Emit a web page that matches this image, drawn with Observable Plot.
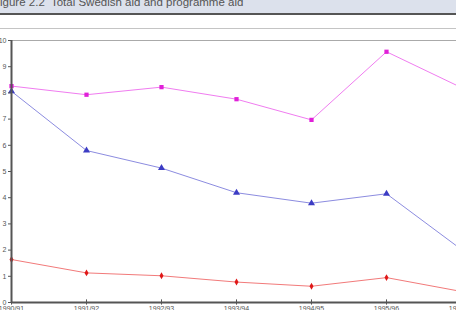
<!DOCTYPE html>
<html>
<head>
<meta charset="utf-8">
<script src="https://cdn.jsdelivr.net/npm/d3@7"></script>
<script src="https://cdn.jsdelivr.net/npm/@observablehq/plot@0.6"></script>
<style>
  html, body { margin: 0; padding: 0; background: #fff; overflow: hidden; width: 456px; height: 310px; }
  #title { position: relative; width: 456px; height: 13px; background: #dce1ec; border-bottom: 2px solid #555; overflow: hidden; }
  #title span { position: absolute; left: -7px; top: -5px; font: 11.5px "Liberation Sans", Arial, sans-serif; color: #555; white-space: pre; line-height: 14px; }
  #spacer { width: 456px; height: 13px; border-bottom: 1px solid #c4c4c4; }
  #chart svg { display: block; overflow: hidden; }
</style>
</head>
<body>
<div id="title"><span>Figure 2.2  Total Swedish aid and programme aid</span></div>
<div id="spacer"></div>
<div id="chart"></div>
<script>
const years = ["1990/91", "1991/92", "1992/93", "1993/94", "1994/95", "1995/96", "1996/97"];
const yTicks = [0, 1, 2, 3, 4, 5, 6, 7, 8, 9, 10];
const pinkValues = [8.26, 7.93, 8.22, 7.76, 6.97, 9.57, 8.2];
const blueValues = [8.06, 5.8, 5.13, 4.19, 3.79, 4.15, 2.02];
const redValues  = [1.64, 1.13, 1.02, 0.78, 0.62, 0.95, 0.42];

const rows = (vals) => years.map((y, i) => ({year: y, value: vals[i]}));
const pink = rows(pinkValues), blue = rows(blueValues), red = rows(redValues);

const chart = Plot.plot({
  width: 456,
  height: 281,
  marginTop: 11,
  marginBottom: 8,
  marginLeft: 11,
  marginRight: 0,
  style: {fontFamily: "'Liberation Sans', Arial, sans-serif", background: "#fff", overflow: "hidden"},
  x: {type: "point", domain: years, range: [11, 461], padding: 0},
  y: {domain: [0, 10]},
  marks: [
    Plot.ruleY([10], {stroke: "#aaa", strokeWidth: 1}),
    Plot.line(pink, {x: "year", y: "value", stroke: "#f07cf0", strokeWidth: 1}),
    Plot.line(blue, {x: "year", y: "value", stroke: "#8c8ce0", strokeWidth: 1}),
    Plot.line(red, {x: "year", y: "value", stroke: "#f27a7a", strokeWidth: 1}),
    Plot.dot(pink, {x: "year", y: "value", symbol: "square", r: 2.4, fill: "#e020d8", stroke: "none"}),
    Plot.dot(blue, {x: "year", y: "value", symbol: "triangle", r: 2.6, fill: "#3c3cc4", stroke: "none"}),
    Plot.dot(red, {x: "year", y: "value", symbol: "diamond", r: 2.1, fill: "#e01818", stroke: "none"}),
    Plot.ruleX(years, {x: d => d, y1: -0.1, y2: 0.1, stroke: "#555", strokeWidth: 1}),
    Plot.ruleY([0], {stroke: "#555", strokeWidth: 2}),
    Plot.ruleX([years[0]], {y1: 0, y2: 10, stroke: "#555", strokeWidth: 2}),
    Plot.axisY({ticks: yTicks, tickSize: 3, tickPadding: 2, fontSize: 7, color: "#555", stroke: "#555", label: null}),
    Plot.axisX({tickSize: 0, tickPadding: 4, fontSize: 7, color: "#555", label: null})
  ]
});
document.getElementById("chart").appendChild(chart);
</script>
</body>
</html>
